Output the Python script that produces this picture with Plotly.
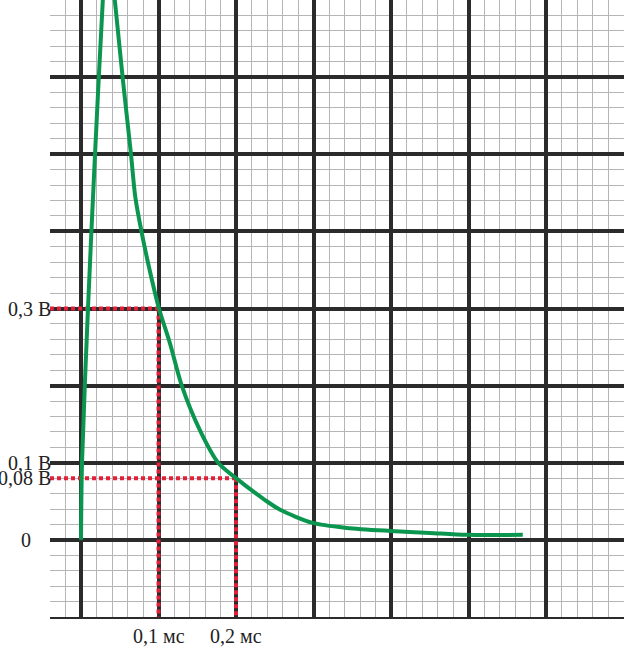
import plotly.graph_objects as go

# Curve data (time in ms; voltage in V)
t_ms = [0.0, 0.0013, 0.009, 0.018, 0.028, 0.034, 0.0439, 0.054, 0.0645, 0.0700, 0.0780,
        0.089, 0.1006, 0.115, 0.130, 0.1535, 0.177, 0.200, 0.237, 0.257, 0.299,
        0.343, 0.399, 0.450, 0.498, 0.570]
u_v = [0.0, 0.10, 0.30, 0.498, 0.697, 0.79, 0.697, 0.597, 0.500, 0.445, 0.400,
       0.348, 0.300, 0.254, 0.200, 0.142, 0.100, 0.080, 0.052, 0.039, 0.022,
       0.0155, 0.0116, 0.009, 0.0065, 0.0065]

# Marked readings
mark_t = [0.1, 0.2]
mark_u = [0.3, 0.08]
mark_t_labels = ["0,1 мс", "0,2 мс"]
y_tick_vals = [0.3, 0.1, 0.08, 0]
y_tick_labels = ["0,3 В", "0,1 В", "0,08 В", "0"]

X_MIN, X_MAX = -0.04, 0.7006
Y_MIN, Y_MAX = -0.1, 0.7

fig = go.Figure()

red = "#e3203a"
for tm, um in zip(mark_t, mark_u):
    fig.add_trace(go.Scatter(x=[X_MIN, tm], y=[um, um], mode="lines",
                             line=dict(color=red, width=4, dash="4px,3px"),
                             hoverinfo="skip", showlegend=False))
    fig.add_trace(go.Scatter(x=[tm, tm], y=[um, Y_MIN], mode="lines",
                             line=dict(color=red, width=4, dash="4px,3px"),
                             hoverinfo="skip", showlegend=False))

fig.add_trace(go.Scatter(x=t_ms, y=u_v, mode="lines",
                         line=dict(color="#0b9650", width=4, shape="spline", smoothing=0.8),
                         hoverinfo="skip", showlegend=False))

font = dict(family="Liberation Serif, Times New Roman, serif", size=20, color="#222222")

for val, lab in zip(y_tick_vals, y_tick_labels):
    if lab == "0":
        fig.add_annotation(x=0, xref="paper", xanchor="center", xshift=-24,
                           y=val, yref="y", yanchor="middle", text=lab,
                           showarrow=False, font=font)
    else:
        fig.add_annotation(x=0, xref="paper", xanchor="right", xshift=3,
                           y=val, yref="y", yanchor="middle", text=lab,
                           showarrow=False, font=font)

for tm, lab in zip(mark_t, mark_t_labels):
    fig.add_annotation(x=tm, xref="x", xanchor="center",
                       y=0, yref="paper", yanchor="top", yshift=-6,
                       text=lab, showarrow=False, font=font)

axis_common = dict(showticklabels=False, ticks="", zeroline=False,
                   gridcolor="#2b2b2b", gridwidth=4,
                   minor=dict(showgrid=True, gridcolor="#b5b5b5", gridwidth=1))

fig.update_xaxes(range=[X_MIN, X_MAX], tick0=0, dtick=0.1,
                 minor_dtick=0.02, minor_tick0=0, **axis_common)
fig.update_yaxes(range=[Y_MIN, Y_MAX], tick0=0, dtick=0.1,
                 minor_dtick=0.02, minor_tick0=0, **axis_common)
fig.update_xaxes(showline=True, linecolor="#2b2b2b", linewidth=2, mirror=False)

fig.update_layout(width=624, height=648,
                  margin=dict(l=50, r=0, t=0, b=31),
                  paper_bgcolor="white", plot_bgcolor="white")

fig.write_html("out.html", config={"displayModeBar": False},
               post_script="document.body.style.margin='0';document.body.style.padding='0';")
